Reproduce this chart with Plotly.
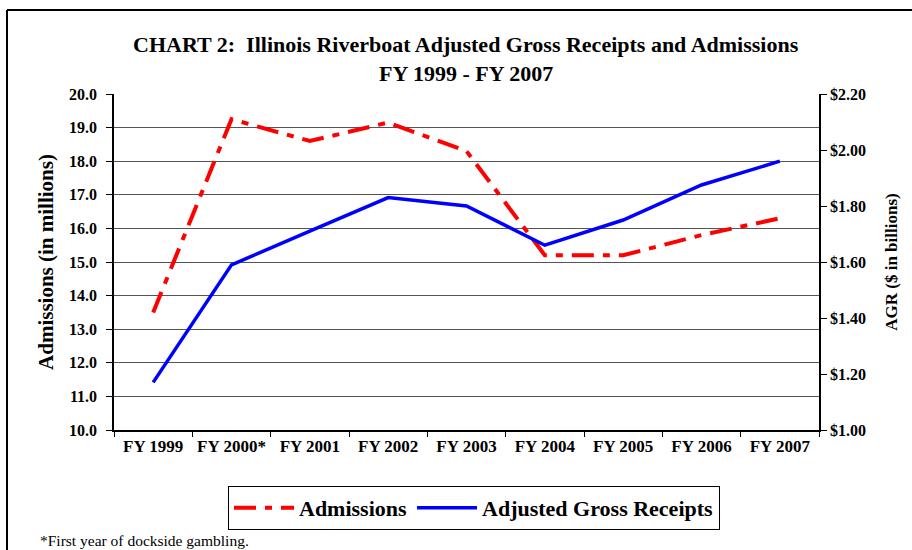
import plotly.graph_objects as go

categories = ["FY 1999", "FY 2000*", "FY 2001", "FY 2002", "FY 2003",
              "FY 2004", "FY 2005", "FY 2006", "FY 2007"]
admissions = [13.5, 19.25, 18.6, 19.15, 18.3, 15.2, 15.2, 15.8, 16.3]
agr = [1.17, 1.59, 1.71, 1.83, 1.80, 1.66, 1.75, 1.875, 1.96]

FONT = "Liberation Serif"
W, H = 912, 550
L, R, T, B = 114, 819, 94, 430


def px_x(x):
    return (x - L) / (R - L)


def px_y(y):
    return (B - y) / (B - T)


fig = go.Figure()
fig.add_trace(go.Scatter(
    x=categories, y=admissions, name="<b>Admissions</b>", mode="lines",
    line=dict(color="#FF0000", width=4, dash="22px,9px,7px,9px"),
    yaxis="y"))
fig.add_trace(go.Scatter(
    x=categories, y=agr, name="<b>Adjusted Gross Receipts</b>", mode="lines",
    line=dict(color="#0000FF", width=3.5), yaxis="y2"))

fig.update_layout(
    width=W, height=H,
    margin=dict(l=L, r=W - R, t=T, b=H - B, autoexpand=False),
    paper_bgcolor="white", plot_bgcolor="white",
    font=dict(family=FONT, color="black"),
    showlegend=True,
    legend=dict(orientation="h", x=px_x(474), xanchor="center",
                y=px_y(486), yanchor="top",
                bordercolor="black", borderwidth=1,
                font=dict(family=FONT, size=22, color="black"),
                itemwidth=60, tracegroupgap=0),
    xaxis=dict(type="category", showgrid=False, showline=True,
               linecolor="black", linewidth=1.5,
               ticks="outside", ticklen=5, tickcolor="black",
               tickson="boundaries",
               tickvals=categories,
               ticktext=[f"<b>{c}</b>" for c in categories],
               tickfont=dict(family=FONT, size=17, color="black"),
               range=[-0.5, 8.5]),
    yaxis=dict(range=[10, 20], dtick=1, tickformat=".1f",
               tickprefix="<b>", ticksuffix="</b>",
               showgrid=True, gridcolor="#555555", gridwidth=1,
               showline=True, linecolor="black", linewidth=1.5,
               ticks="outside", ticklen=6, tickcolor="black",
               ticklabelstandoff=6,
               tickfont=dict(family=FONT, size=16, color="black"),
               title=dict(text="<b>Admissions (in millions)</b>",
                          font=dict(family=FONT, size=21, color="black"),
                          standoff=10),
               zeroline=False),
    yaxis2=dict(range=[1.0, 2.2], dtick=0.2, tickformat="$.2f",
                tickprefix="<b>", ticksuffix="</b>",
                overlaying="y", side="right", showgrid=False,
                showline=True, linecolor="black", linewidth=1.5,
                ticks="outside", ticklen=6, tickcolor="black",
                tickfont=dict(family=FONT, size=16, color="black"),
                title=dict(text="<b>AGR ($ in billions)</b>",
                           font=dict(family=FONT, size=17, color="black"),
                           standoff=20),
                zeroline=False),
)

# Title
fig.add_annotation(text="<b>CHART 2:  Illinois Riverboat Adjusted Gross Receipts and Admissions</b>",
                   xref="paper", yref="paper", x=px_x(466), xanchor="center",
                   y=px_y(44), yanchor="middle", showarrow=False,
                   font=dict(family=FONT, size=22, color="black"))
fig.add_annotation(text="<b>FY 1999 - FY 2007</b>",
                   xref="paper", yref="paper", x=px_x(466), xanchor="center",
                   y=px_y(73), yanchor="middle", showarrow=False,
                   font=dict(family=FONT, size=22, color="black"))
# Footnote
fig.add_annotation(text="*First year of dockside gambling.",
                   xref="paper", yref="paper", x=px_x(38), xanchor="left",
                   y=px_y(540), yanchor="middle", showarrow=False,
                   font=dict(family=FONT, size=15.5, color="black"))

# Outer border (left and top)
fig.add_shape(type="line", xref="paper", yref="paper",
              x0=px_x(7), x1=px_x(7), y0=px_y(10), y1=px_y(560),
              line=dict(color="black", width=2))
fig.add_shape(type="line", xref="paper", yref="paper",
              x0=px_x(7), x1=px_x(920), y0=px_y(10), y1=px_y(10),
              line=dict(color="black", width=2))

fig.write_html("out.html", config={"displayModeBar": False},
               post_script="document.body.style.margin='0';")
